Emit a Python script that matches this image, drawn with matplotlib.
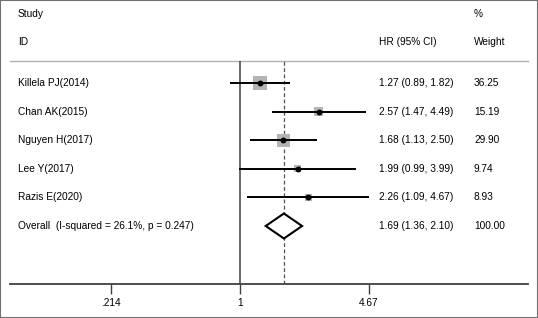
import numpy as np
import matplotlib
matplotlib.use("Agg")
import matplotlib.pyplot as plt
from matplotlib.patches import Polygon, Rectangle

studies = ["Killela PJ(2014)", "Chan AK(2015)", "Nguyen H(2017)", "Lee Y(2017)", "Razis E(2020)"]
hr = [1.27, 2.57, 1.68, 1.99, 2.26]
lo = [0.89, 1.47, 1.13, 0.99, 1.09]
hi = [1.82, 4.49, 2.50, 3.99, 4.67]
weights = [36.25, 15.19, 29.90, 9.74, 8.93]
overall_label = "Overall  (I-squared = 26.1%, p = 0.247)"
overall = (1.69, 1.36, 2.10)
overall_weight = "100.00"
xticks = [0.214, 1, 4.67]
xticklabels = [".214", "1", "4.67"]

plt.rcParams['font.family'] = ['Liberation Sans', 'DejaVu Sans']
FS = 7.3

W, H = 538, 318
fig = plt.figure(figsize=(W / 100, H / 100), dpi=100)
# outer frame
fig.patches.append(Rectangle((0, 0), 1, 1, transform=fig.transFigure, fill=False,
                             edgecolor="#707070", linewidth=1.5))

ax_left, ax_right = 9.5, 528
ax_top, ax_bot = 61, 284
ax = fig.add_axes([ax_left / W, (H - ax_bot) / H, (ax_right - ax_left) / W, (ax_bot - ax_top) / H])
ax.set_xscale("log")
# px per ln-unit: 1 at 240, .214 at 111
k = (240 - 111) / (0 - np.log(0.214))
ax.set_xlim(np.exp((ax_left - 240) / k), np.exp((ax_right - 240) / k))
row_h = 28.6
ax.set_ylim((ax_bot - 83) / row_h, (ax_top - 83) / row_h)

for s in ["left", "right", "top"]:
    ax.spines[s].set_visible(False)
ax.spines["bottom"].set_color("#404040")
ax.spines["bottom"].set_linewidth(1.3)
ax.set_yticks([])
ax.set_xticks(xticks)
ax.set_xticklabels(xticklabels, fontsize=FS)
ax.xaxis.set_minor_locator(matplotlib.ticker.NullLocator())
ax.tick_params(axis="x", direction="out", length=7, width=1.0, color="#404040", pad=3)

# header line
ax.axhline((ax_top - 83) / row_h, color="#b0b0b0", lw=1.0, clip_on=False)
# null line and overall dashed line
ax.axvline(1, color="#404040", lw=1.1)
ax.axvline(overall[0], color="#505050", lw=0.9, ls=(0, (3, 2)))

ys = np.arange(len(studies))
for i in range(len(studies)):
    ax.plot([lo[i], hi[i]], [ys[i], ys[i]], color="black", lw=1.4, solid_capstyle="butt", zorder=3)
sizes = [100 * w / 36.25 for w in weights]
ax.scatter(hr, ys, s=sizes, marker="s", color="#b4b4b4", zorder=2, linewidths=0)
ax.scatter(hr, ys, s=18, marker="o", color="black", zorder=4, linewidths=0)

# overall diamond
yo = len(studies)
est, l, h = overall
dh = 12.5 / row_h
diamond = Polygon([[l, yo], [est, yo - dh], [h, yo], [est, yo + dh]], closed=True,
                  facecolor="white", edgecolor="black", lw=1.5, zorder=5)
ax.add_patch(diamond)

# text
to_x = lambda px: px / W
trans = matplotlib.transforms.blended_transform_factory(fig.transFigure, ax.transData)
for i, s in enumerate(studies):
    fig.text(to_x(18), ys[i], s, transform=trans, fontsize=FS, va="center", ha="left")
    fig.text(to_x(379), ys[i], f"{hr[i]:.2f} ({lo[i]:.2f}, {hi[i]:.2f})", transform=trans,
             fontsize=FS, va="center", ha="left")
    fig.text(to_x(474), ys[i], f"{weights[i]:.2f}", transform=trans, fontsize=FS, va="center", ha="left")
fig.text(to_x(18), yo, overall_label, transform=trans, fontsize=FS, va="center", ha="left")
fig.text(to_x(379), yo, f"{est:.2f} ({l:.2f}, {h:.2f})", transform=trans, fontsize=FS, va="center", ha="left")
fig.text(to_x(474), yo, overall_weight, transform=trans, fontsize=FS, va="center", ha="left")

fig.text(to_x(18), 1 - 14 / H, "Study", fontsize=FS, va="center", ha="left")
fig.text(to_x(474), 1 - 14 / H, "%", fontsize=FS, va="center", ha="left")
fig.text(to_x(18), 1 - 42 / H, "ID", fontsize=FS, va="center", ha="left")
fig.text(to_x(379), 1 - 42 / H, "HR (95% CI)", fontsize=FS, va="center", ha="left")
fig.text(to_x(474), 1 - 42 / H, "Weight", fontsize=FS, va="center", ha="left")

fig.savefig("out.png", dpi=100)
